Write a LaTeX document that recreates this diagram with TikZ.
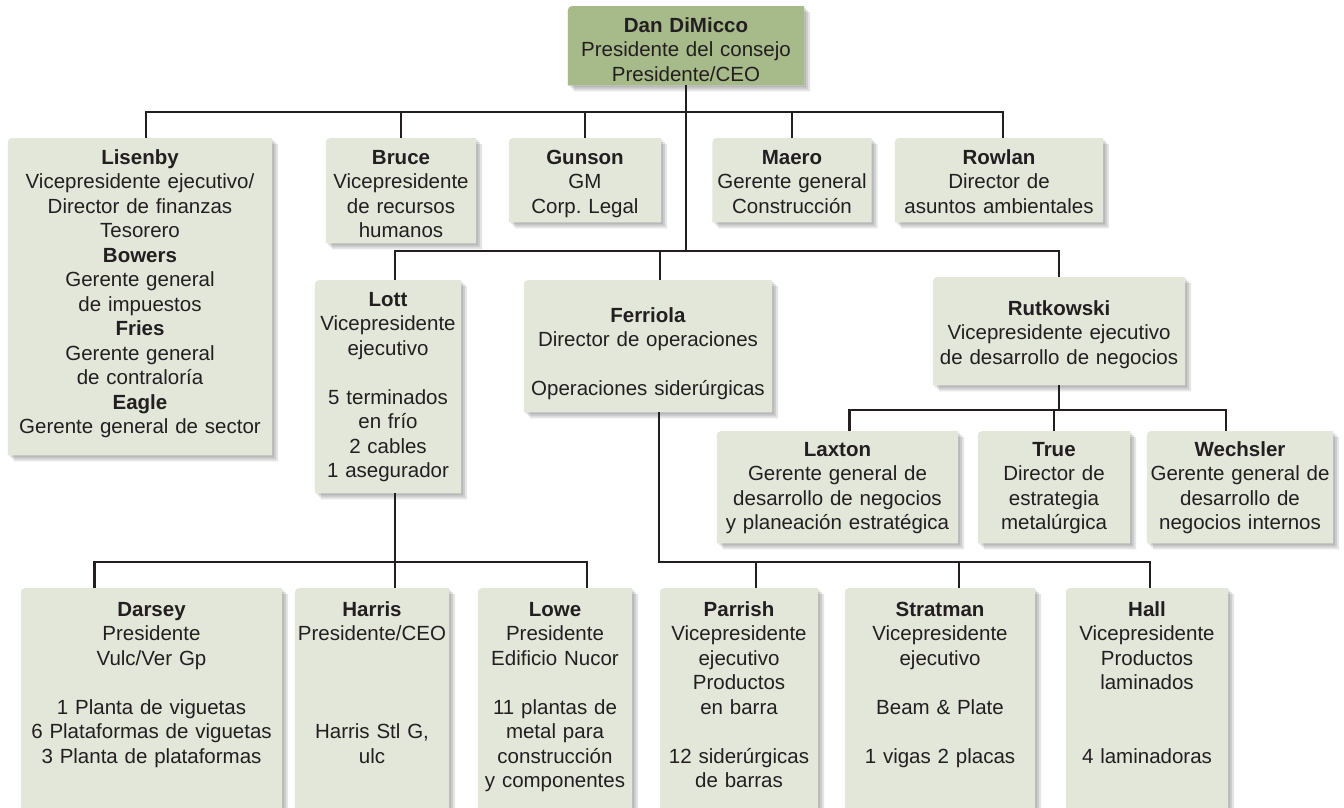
\documentclass[tikz,border=0pt]{standalone}
\usepackage{fontspec}
\setmainfont{Liberation Sans}
\usepackage{xcolor}
\definecolor{boxGreen}{HTML}{E2E7DA}
\definecolor{topGreen}{HTML}{A7BA8A}
\definecolor{inkGray}{HTML}{231F20}
\usepackage{tikz}
\usetikzlibrary{backgrounds}
\frenchspacing
\newcommand{\orgfont}{\fontsize{20.5}{24.5}\selectfont}
% box outline: only the top left corner is rounded
\newcommand{\orgshape}[2]{([xshift=#2,yshift=-#2]#1.south west) -- ([xshift=#2,yshift=-#2-10pt]#1.north west) .. controls ([xshift=#2,yshift=-#2]#1.north west) .. ([xshift=#2+10pt,yshift=-#2]#1.north west) -- ([xshift=#2,yshift=-#2]#1.north east) -- ([xshift=#2,yshift=-#2]#1.south east) -- cycle}

\begin{document}
\begin{tikzpicture}[x=1pt, y=-1pt,
  orgbox/.style={anchor=north, align=center, inner sep=0pt, text width=#1,
    text height=26pt, font=\orgfont, text=inkGray},
  link/.style={draw=inkGray, line width=2.2pt}]
  \useasboundingbox (0,0) rectangle (1344,807);
  % ---------- top ----------
  \node[orgbox=236pt, text depth=53pt] (dimicco) at (686,6)
    {\textbf{Dan DiMicco}\\Presidente del consejo\\Presidente/CEO};
  % ---------- first row ----------
  \node[orgbox=264pt, text depth=291pt] (lisenby) at (140,138)
    {\textbf{Lisenby}\\Vicepresidente ejecutivo/\\Director de finanzas\\Tesorero\\
     \textbf{Bowers}\\Gerente general\\de impuestos\\\textbf{Fries}\\Gerente general\\
     de contraloría\\\textbf{Eagle}\\Gerente general de sector};
  \node[orgbox=150pt, text depth=79pt] (bruce) at (401,138)
    {\textbf{Bruce}\\Vicepresidente\\de recursos\\humanos};
  \node[orgbox=152pt, text depth=58pt] (gunson) at (585,138)
    {\textbf{Gunson}\\GM\\Corp. Legal};
  \node[orgbox=159pt, text depth=58pt] (maero) at (792,138)
    {\textbf{Maero}\\Gerente general\\Construcción};
  \node[orgbox=208pt, text depth=58pt] (rowlan) at (999,138)
    {\textbf{Rowlan}\\Director de\\asuntos ambientales};
  % ---------- second row ----------
  \node[orgbox=146pt, text depth=187pt] (lott) at (388,280)
    {\textbf{Lott}\\Vicepresidente\\ejecutivo\\[24.5pt]5 terminados\\en frío\\2 cables\\1 asegurador};
  \node[orgbox=248pt, text height=42pt, text depth=90pt] (ferriola) at (648,280)
    {\textbf{Ferriola}\\Director de operaciones\\[24.5pt]Operaciones siderúrgicas};
  \node[orgbox=252pt, text height=38pt, text depth=70pt] (rutkowski) at (1059,277)
    {\textbf{Rutkowski}\\Vicepresidente ejecutivo\\de desarrollo de negocios};
  % ---------- under Rutkowski ----------
  \node[orgbox=241pt, text height=25pt, text depth=87pt] (laxton) at (837.5,431)
    {\textbf{Laxton}\\Gerente general de\\desarrollo de negocios\\y planeación estratégica};
  \node[orgbox=152pt, text height=25pt, text depth=87pt] (truedir) at (1054,431)
    {\textbf{True}\\Director de\\estrategia\\metalúrgica};
  \node[orgbox=186pt, text height=25pt, text depth=87pt] (wechsler) at (1240,431)
    {\textbf{Wechsler}\\Gerente general de\\desarrollo de\\negocios internos};
  % ---------- bottom row ----------
  \node[orgbox=261pt, text height=28pt, text depth=212pt] (darsey) at (151.5,588)
    {\textbf{Darsey}\\Presidente\\Vulc/Ver Gp\\[24.5pt]1 Planta de viguetas\\6 Plataformas de viguetas\\3 Planta de plataformas};
  \node[orgbox=154pt, text height=28pt, text depth=212pt] (harris) at (372,588)
    {\textbf{Harris}\\Presidente/CEO\\[73.5pt]Harris Stl G,\\ulc};
  \node[orgbox=154pt, text height=28pt, text depth=212pt] (lowe) at (555,588)
    {\textbf{Lowe}\\Presidente\\Edificio Nucor\\[24.5pt]11 plantas de\\metal para\\construcción\\y componentes};
  \node[orgbox=158pt, text height=28pt, text depth=212pt] (parrish) at (739,588)
    {\textbf{Parrish}\\Vicepresidente\\ejecutivo\\Productos\\en barra\\[24.5pt]12 siderúrgicas\\de barras};
  \node[orgbox=190pt, text height=28pt, text depth=212pt] (stratman) at (940,588)
    {\textbf{Stratman}\\Vicepresidente\\ejecutivo\\[24.5pt]Beam \& Plate\\[24.5pt]1 vigas 2 placas};
  \node[orgbox=162pt, text height=28pt, text depth=212pt] (hall) at (1147,588)
    {\textbf{Hall}\\Vicepresidente\\Productos\\laminados\\[49pt]4 laminadoras};
  % ---------- connectors ----------
  \coordinate (busA) at (0,112);
  \coordinate (busB) at (0,251);
  \coordinate (busC) at (0,410);
  \coordinate (busD) at (0,562);
  \draw[link] (dimicco.south) -- (dimicco.south |- busB);
  \draw[link] ([xshift=6pt]lisenby.north) -- ([xshift=6pt]lisenby.north |- busA)
    -- ([xshift=4pt]rowlan.north |- busA) -- ([xshift=4pt]rowlan.north);
  \foreach \n in {bruce,gunson,maero}
    \draw[link] (\n.north) -- (\n.north |- busA);
  \draw[link] ([xshift=7pt]lott.north) -- ([xshift=7pt]lott.north |- busB)
    -- (rutkowski.north |- busB) -- (rutkowski.north);
  \draw[link] ([xshift=12pt]ferriola.north) -- ([xshift=12pt]ferriola.north |- busB);
  \draw[link] (rutkowski.south) -- (rutkowski.south |- busC);
  \draw[link] ([xshift=12pt]laxton.north) -- ([xshift=12pt]laxton.north |- busC)
    -- ([xshift=-14pt]wechsler.north |- busC) -- ([xshift=-14pt]wechsler.north);
  \draw[link] (truedir.north) -- (truedir.north |- busC);
  \draw[link] ([xshift=7pt]lott.south) -- ([xshift=7pt]lott.south |- busD);
  \draw[link] ([xshift=-57pt]darsey.north) -- ([xshift=-57pt]darsey.north |- busD)
    -- ([xshift=32pt]lowe.north |- busD) -- ([xshift=32pt]lowe.north);
  \draw[link] ([xshift=23pt]harris.north) -- ([xshift=23pt]harris.north |- busD);
  \draw[link] ([xshift=11pt]ferriola.south) -- ([xshift=11pt]ferriola.south |- busD)
    -- ([xshift=3pt]hall.north |- busD) -- ([xshift=3pt]hall.north);
  \draw[link] ([xshift=17pt]parrish.north) -- ([xshift=17pt]parrish.north |- busD);
  \draw[link] ([xshift=19pt]stratman.north) -- ([xshift=19pt]stratman.north |- busD);
  % ---------- boxes and shadows ----------
  \begin{scope}[on background layer]
    \fill[white] (0,0) rectangle (1344,807);
    \foreach \n in {dimicco,lisenby,bruce,gunson,maero,rowlan,lott,ferriola,rutkowski,
                    laxton,truedir,wechsler,darsey,harris,lowe,parrish,stratman,hall} {
      \foreach \k in {2pt,4pt,6pt}
        \fill[black, opacity=0.1] \orgshape{\n}{\k};
      \fill[boxGreen] \orgshape{\n}{0pt};
    }
    \fill[topGreen] \orgshape{dimicco}{0pt};
  \end{scope}
\end{tikzpicture}
\end{document}
